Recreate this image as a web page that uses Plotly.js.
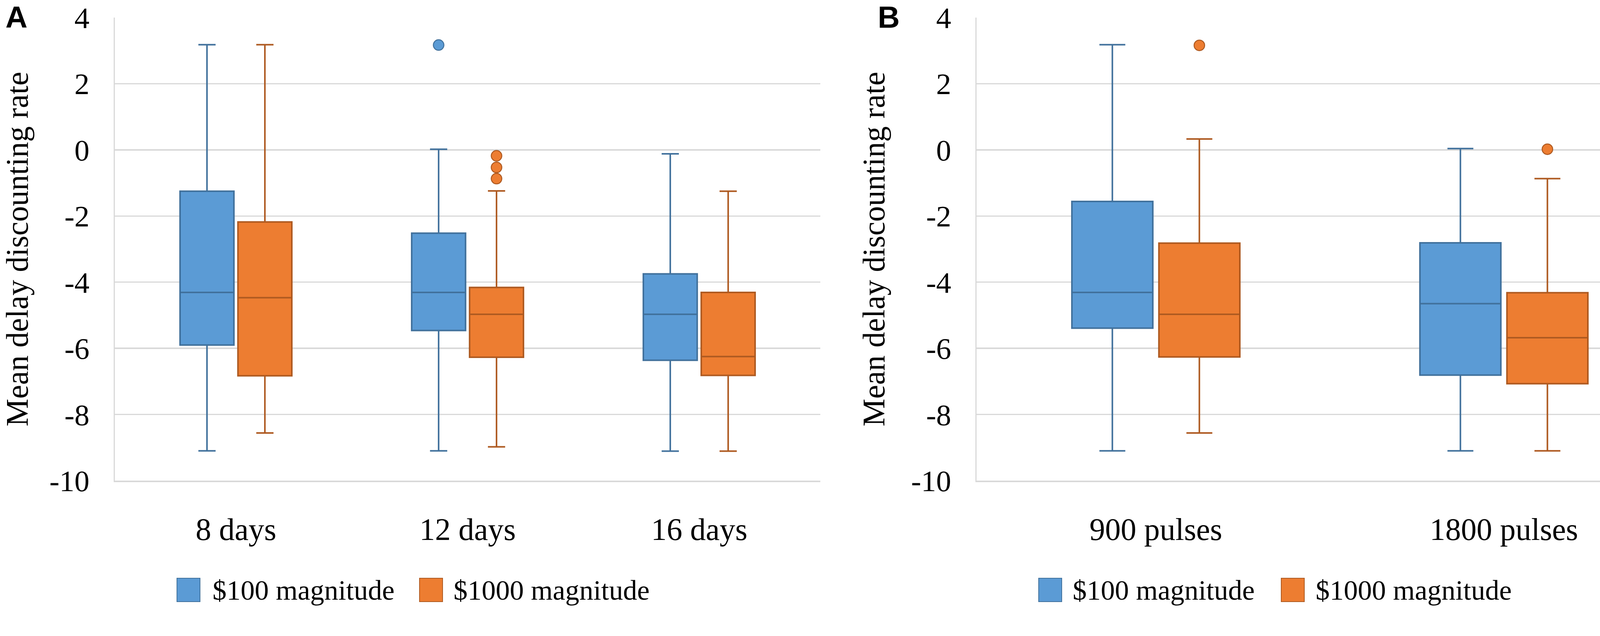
<!DOCTYPE html>
<html>
<head>
<meta charset="utf-8">
<script src="https://cdn.plot.ly/plotly-3.0.1.min.js"></script>
<style>
  html, body { margin: 0; padding: 0; background: #ffffff; }
  #chart { width: 4317px; height: 1629px; }
</style>
</head>
<body>
<div id="chart"></div>
<script>
// ---------- DATA ----------
// Panel A: duration
var catsA = ['8 days', '12 days', '16 days'];
var a100_upper  = [3.18, 0.02, -0.12];
var a100_q3     = [-1.25, -2.52, -3.75];
var a100_median = [-4.31, -4.31, -4.97];
var a100_q1     = [-5.90, -5.46, -6.36];
var a100_lower  = [-9.10, -9.10, -9.11];
var a100_outliers = [[null], [3.17], [null]];   // null = no outlier for that box

var a1000_upper  = [3.18, -1.24, -1.25];
var a1000_q3     = [-2.18, -4.16, -4.31];
var a1000_median = [-4.47, -4.97, -6.25];
var a1000_q1     = [-6.83, -6.27, -6.82];
var a1000_lower  = [-8.56, -8.98, -9.11];
var a1000_outliers = [[null], [-0.18, -0.53, -0.87], [null]];

// Panel B: pulses
var catsB = ['900 pulses', '1800 pulses'];
var b100_upper  = [3.18, 0.04];
var b100_q3     = [-1.56, -2.81];
var b100_median = [-4.31, -4.65];
var b100_q1     = [-5.39, -6.81];
var b100_lower  = [-9.10, -9.10];
var b100_outliers = [[null], [null]];

var b1000_upper  = [0.33, -0.87];
var b1000_q3     = [-2.82, -4.32];
var b1000_median = [-4.97, -5.68];
var b1000_q1     = [-6.26, -7.07];
var b1000_lower  = [-8.56, -9.10];
var b1000_outliers = [[3.16], [0.02]];

var seriesNames = ['$100 magnitude', '$1000 magnitude'];
var yTickVals = [4, 2, 0, -2, -4, -6, -8, -10];
var yTickText = ['4', '2', '0', '-2', '-4', '-6', '-8', '-10'];
var panelLabels = ['A', 'B'];
var yTitle = 'Mean delay discounting rate';

// ---------- STYLE ----------
var W = 4317, H = 1629;
var plotTop = 45, plotBottom = 1231;
var plotH = plotBottom - plotTop;
var blueFill = '#5B9BD5', blueLine = '#41719C';
var orangeFill = '#ED7D31', orangeLine = '#AE5A21';
var gridCol = '#D9D9D9';
var serif = 'Liberation Serif, Times New Roman, serif';
var sans = 'Liberation Sans, Arial, sans-serif';

function px(x) { return x / W; }
function py(y) { return (plotBottom - y) / plotH; }

function boxTrace(cats, q1, med, q3, lo, hi, outl, fill, line, xa, ya, name, agroup, ogroup) {
  return {
    type: 'box', name: name, x: cats, y: outl,
    q1: q1, median: med, q3: q3, lowerfence: lo, upperfence: hi,
    alignmentgroup: agroup, offsetgroup: ogroup,
    boxpoints: 'outliers', pointpos: 0, jitter: 0,
    whiskerwidth: 0.32,
    fillcolor: fill,
    line: { color: line, width: 4 },
    marker: { color: fill, size: 27, line: { color: line, width: 2.5 } },
    xaxis: xa, yaxis: ya, showlegend: false, hoverinfo: 'skip'
  };
}

var data = [
  boxTrace(catsA, a100_q1, a100_median, a100_q3, a100_lower, a100_upper, a100_outliers, blueFill, blueLine, 'x', 'y', seriesNames[0], 'A', 'm100'),
  boxTrace(catsA, a1000_q1, a1000_median, a1000_q3, a1000_lower, a1000_upper, a1000_outliers, orangeFill, orangeLine, 'x', 'y', seriesNames[1], 'A', 'm1000'),
  boxTrace(catsB, b100_q1, b100_median, b100_q3, b100_lower, b100_upper, b100_outliers, blueFill, blueLine, 'x2', 'y2', seriesNames[0], 'B', 'm100'),
  boxTrace(catsB, b1000_q1, b1000_median, b1000_q3, b1000_lower, b1000_upper, b1000_outliers, orangeFill, orangeLine, 'x2', 'y2', seriesNames[1], 'B', 'm1000')
];

function xAxis(domain, anchor) {
  return {
    domain: domain, anchor: anchor, type: 'category',
    showgrid: false, zeroline: false,
    showline: true, linecolor: gridCol, linewidth: 3.5,
    ticks: '', ticklabelstandoff: 52,
    tickfont: { family: serif, size: 80, color: '#000000' },
    fixedrange: true
  };
}
function yAxis(anchor) {
  return {
    anchor: anchor, range: [-10, 4], autorange: false,
    tickmode: 'array', tickvals: yTickVals, ticktext: yTickText,
    showgrid: true, gridcolor: gridCol, gridwidth: 3.5,
    zeroline: false, showline: true, linecolor: gridCol, linewidth: 3.5,
    ticks: '', ticklabelstandoff: 46, ticklabeloverflow: 'allow',
    tickfont: { family: serif, size: 77, color: '#000000' },
    title: { text: yTitle, font: { family: serif, size: 80, color: '#000000' }, standoff: 42 },
    fixedrange: true
  };
}

var shapes = [];
var annotations = [];
// panel labels
annotations.push({ text: '<b>' + panelLabels[0] + '</b>', xref: 'paper', yref: 'paper',
  x: px(12), y: py(-2), xanchor: 'left', yanchor: 'top', showarrow: false,
  font: { family: sans, size: 78, color: '#000000' } });
annotations.push({ text: '<b>' + panelLabels[1] + '</b>', xref: 'paper', yref: 'paper',
  x: px(2245), y: py(-2), xanchor: 'left', yanchor: 'top', showarrow: false,
  font: { family: sans, size: 78, color: '#000000' } });

// legends (one per panel)
function legendItem(sqX, textX, fill, line, label) {
  shapes.push({ type: 'rect', xref: 'paper', yref: 'paper',
    x0: px(sqX), x1: px(sqX + 59), y0: py(1481), y1: py(1541),
    fillcolor: fill, line: { color: line, width: 2 } });
  annotations.push({ text: label, xref: 'paper', yref: 'paper',
    x: px(textX), y: py(1512), xanchor: 'left', yanchor: 'middle', showarrow: false,
    font: { family: serif, size: 72, color: '#000000' } });
}
legendItem(453, 542, blueFill, blueLine, seriesNames[0]);
legendItem(1074, 1159, orangeFill, orangeLine, seriesNames[1]);
legendItem(2659, 2744, blueFill, blueLine, seriesNames[0]);
legendItem(3280, 3366, orangeFill, orangeLine, seriesNames[1]);

var layout = {
  width: W, height: H,
  margin: { l: 0, r: 0, t: plotTop, b: H - plotBottom, pad: 0 },
  paper_bgcolor: '#ffffff', plot_bgcolor: '#ffffff',
  boxmode: 'group', boxgap: 0.5, boxgroupgap: 0.07,
  showlegend: false,
  xaxis: xAxis([px(294), px(2100)], 'y'),
  yaxis: yAxis('x'),
  xaxis2: xAxis([px(2500), px(4309)], 'y2'),
  yaxis2: yAxis('x2'),
  shapes: shapes,
  annotations: annotations,
  font: { family: serif, color: '#000000' }
};

Plotly.newPlot('chart', data, layout, { displayModeBar: false, staticPlot: true });
</script>
</body>
</html>
